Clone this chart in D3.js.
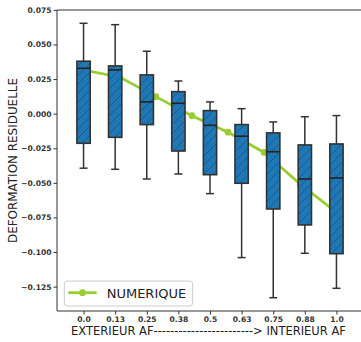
<!DOCTYPE html>
<html><head><meta charset="utf-8">
<script src="https://cdn.jsdelivr.net/npm/d3@7"></script>
<style>body{margin:0;background:#fff}svg{display:block}</style>
</head><body>
<script>
const categories = ["0.0","0.13","0.25","0.38","0.5","0.63","0.75","0.88","1.0"];
const whiskerHigh = [0.0653, 0.0643, 0.0451, 0.0236, 0.0085, 0.0036, -0.0060, -0.0022, -0.0014];
const q3 = [0.0379, 0.0345, 0.0280, 0.0159, 0.0022, -0.0079, -0.0139, -0.0226, -0.0219];
const medians = [0.0328, 0.0316, 0.0085, 0.0075, -0.0084, -0.0163, -0.0275, -0.0472, -0.0465];
const q1 = [-0.0214, -0.0171, -0.0079, -0.0270, -0.0441, -0.0503, -0.0689, -0.0804, -0.1012];
const whiskerLow = [-0.0394, -0.0402, -0.0472, -0.0436, -0.0578, -0.1040, -0.1330, -0.1009, -0.1262];
const lineX = [1, 2.143, 3.286, 4.429, 5.571, 6.714, 7.857, 9];
const lineValues = [0.0314, 0.0265, 0.0123, -0.0015, -0.0134, -0.0280, -0.0510, -0.0713];
const yTicks = [0.075, 0.050, 0.025, 0.000, -0.025, -0.050, -0.075, -0.100, -0.125];
const legendLabel = "NUMERIQUE";
const xTitle = "EXTERIEUR AF------------------------> INTERIEUR AF";
const yTitle = "DEFORMATION RESIDUELLE";

const W = 361, H = 342;
const svg = d3.select("body").append("svg").attr("width", W).attr("height", H)
  .style("font-family", "'DejaVu Sans', sans-serif");

const x = d3.scaleLinear().domain([0.16, 9.84]).range([57, 363]);
const y = d3.scaleLinear().domain([-0.1426, 0.0749]).range([311, 10]);

const defs = svg.append("defs");
const pat = defs.append("pattern").attr("id", "hatch").attr("patternUnits", "userSpaceOnUse")
  .attr("width", 9).attr("height", 9);
pat.append("rect").attr("width", 9).attr("height", 9).attr("fill", "#1f77b4");
pat.append("path").attr("d", "M-1,1 l2,-2 M0,9 l9,-9 M8,10 l2,-2")
  .attr("stroke", "rgba(10,40,80,0.45)").attr("stroke-width", 0.8);

// axes
const yAxis = d3.axisLeft(y).tickValues(yTicks).tickSize(3.5).tickPadding(2)
  .tickFormat(d => d3.format(".3f")(d).replace("-", "\u2212"));
const gy = svg.append("g").attr("transform", "translate(57,0)").call(yAxis);
gy.select(".domain").remove();
gy.selectAll("text").attr("font-size", 7.6).attr("font-weight", "bold").attr("fill", "#333")
  .attr("font-family", "'DejaVu Sans', sans-serif");
gy.selectAll("line").attr("stroke", "#333");

const xAxis = d3.axisBottom(x).tickValues(d3.range(1, 10)).tickSize(3.5).tickPadding(2)
  .tickFormat((d, i) => categories[i]);
const gx = svg.append("g").attr("transform", "translate(0,311)").call(xAxis);
gx.select(".domain").remove();
gx.selectAll("text").attr("font-size", 7.6).attr("font-weight", "bold").attr("fill", "#333")
  .attr("font-family", "'DejaVu Sans', sans-serif");
gx.selectAll("line").attr("stroke", "#333");

// spines
svg.append("line").attr("x1", 57).attr("x2", 57).attr("y1", 10).attr("y2", 311).attr("stroke", "#333").attr("stroke-width", 1);
svg.append("line").attr("x1", 57).attr("x2", 363).attr("y1", 10).attr("y2", 10).attr("stroke", "#333").attr("stroke-width", 1);
svg.append("line").attr("x1", 57).attr("x2", 363).attr("y1", 311).attr("y2", 311).attr("stroke", "#333").attr("stroke-width", 1);
svg.append("line").attr("x1", 363).attr("x2", 363).attr("y1", 10).attr("y2", 311).attr("stroke", "#333").attr("stroke-width", 1);

// green line (behind boxes)
const lineData = lineX.map((d, i) => [d, lineValues[i]]);
svg.append("path").datum(lineData)
  .attr("d", d3.line().x(d => x(d[0])).y(d => y(d[1])))
  .attr("fill", "none").attr("stroke", "#9acd32").attr("stroke-width", 2.8);
svg.selectAll("circle.pt").data(lineData).enter().append("circle").attr("class", "pt")
  .attr("cx", d => x(d[0])).attr("cy", d => y(d[1])).attr("r", 3.4).attr("fill", "#9acd32");

// boxes
const bw = 13.3, cw = 8;
const boxes = svg.selectAll("g.box").data(categories).enter().append("g").attr("class", "box");
boxes.each(function(c, i) {
  const g = d3.select(this);
  const cx = x(i + 1);
  const stroke = "#333";
  g.append("line").attr("x1", cx).attr("x2", cx).attr("y1", y(q3[i])).attr("y2", y(whiskerHigh[i])).attr("stroke", stroke).attr("stroke-width", 1.5);
  g.append("line").attr("x1", cx).attr("x2", cx).attr("y1", y(q1[i])).attr("y2", y(whiskerLow[i])).attr("stroke", stroke).attr("stroke-width", 1.5);
  g.append("line").attr("x1", cx - cw/2).attr("x2", cx + cw/2).attr("y1", y(whiskerHigh[i])).attr("y2", y(whiskerHigh[i])).attr("stroke", stroke).attr("stroke-width", 1.5);
  g.append("line").attr("x1", cx - cw/2).attr("x2", cx + cw/2).attr("y1", y(whiskerLow[i])).attr("y2", y(whiskerLow[i])).attr("stroke", stroke).attr("stroke-width", 1.5);
  g.append("rect").attr("x", cx - bw/2).attr("width", bw).attr("y", y(q3[i])).attr("height", y(q1[i]) - y(q3[i]))
    .attr("fill", "url(#hatch)").attr("stroke", stroke).attr("stroke-width", 1.6);
  g.append("line").attr("x1", cx - bw/2).attr("x2", cx + bw/2).attr("y1", y(medians[i])).attr("y2", y(medians[i])).attr("stroke", "#222").attr("stroke-width", 1.6);
});

// legend
const lg = svg.append("g");
lg.append("rect").attr("x", 64.3).attr("y", 281).attr("width", 128.4).attr("height", 25).attr("rx", 3)
  .attr("fill", "white").attr("fill-opacity", 0.85).attr("stroke", "#ccc").attr("stroke-width", 1);
lg.append("line").attr("x1", 68.3).attr("x2", 96.7).attr("y1", 292.7).attr("y2", 292.7).attr("stroke", "#9acd32").attr("stroke-width", 2.8);
lg.append("circle").attr("cx", 82.5).attr("cy", 292.7).attr("r", 3.4).attr("fill", "#9acd32");
lg.append("text").attr("x", 106.7).attr("y", 297.5).attr("font-size", 13).attr("fill", "#222").text(legendLabel);

// titles
svg.append("text").attr("x", 208.5).attr("y", 334.8).attr("text-anchor", "middle").attr("font-size", 11.5).attr("fill", "#222").text(xTitle);
svg.append("text").attr("transform", "translate(16.5,160.5) rotate(-90)").attr("text-anchor", "middle").attr("font-size", 11.5)
  .attr("textLength", 165).attr("lengthAdjust", "spacingAndGlyphs").attr("fill", "#222").text(yTitle);
</script>
</body></html>
